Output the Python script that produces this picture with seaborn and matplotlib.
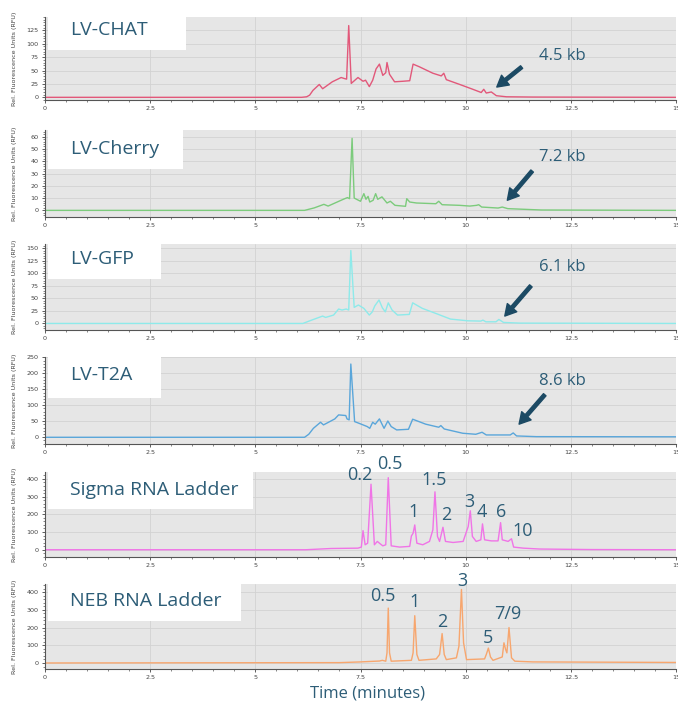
import numpy as np
import pandas as pd
import matplotlib
matplotlib.use("Agg")
import matplotlib.pyplot as plt
import seaborn as sns
from matplotlib.ticker import MultipleLocator, AutoMinorLocator
from matplotlib.patches import Rectangle

sns.set_theme(style="white")
plt.rcParams['font.family'] = ['DejaVu Sans']

# ---------------- data (time in minutes, RFU) ----------------
chat_t = [0, 6.1, 6.22, 6.29, 6.37, 6.52, 6.6, 6.83, 7.04, 7.12, 7.17, 7.22, 7.28, 7.44, 7.56, 7.62,
          7.71, 7.79, 7.87, 7.95, 8.03, 8.1, 8.13, 8.19, 8.31, 8.51, 8.67, 8.75, 8.9, 9.22, 9.42,
          9.48, 9.54, 9.86, 10.17, 10.37, 10.43, 10.49, 10.61, 10.73, 10.97, 11.6, 15]
chat_v = [0, 0, 1, 4, 13, 24, 16, 29, 37, 35, 34, 134, 26, 37, 30, 32,
          20, 32, 53, 62, 41, 46, 65, 43, 29, 30, 31, 62, 57, 45, 40,
          45, 33, 24, 15, 9, 15, 8, 10, 3, 1, 0.5, 0]

cherry_t = [0, 6.17, 6.4, 6.63, 6.73, 7.09, 7.19, 7.24, 7.30, 7.35, 7.5, 7.58, 7.63, 7.68, 7.72, 7.8,
            7.86, 7.91, 8.01, 8.13, 8.21, 8.32, 8.57, 8.6, 8.67, 8.83, 9.29, 9.36, 9.44, 9.85, 10.1,
            10.26, 10.31, 10.38, 10.77, 10.87, 11.0, 11.8, 15]
cherry_v = [0, 0, 2, 4.9, 3.5, 9, 10.4, 9.5, 58.6, 10, 7.4, 13.6, 9, 11.4, 6.8, 8.2,
            13.6, 9, 11, 6, 7.4, 4.1, 3.3, 9.5, 6.8, 6, 5.4, 7.4, 4.6, 4.1, 3.5,
            4.1, 4.6, 2.7, 1.9, 2.7, 1.4, 0.3, 0]

gfp_t = [0, 6.13, 6.34, 6.6, 6.67, 6.86, 6.98, 7.06, 7.16, 7.22, 7.27, 7.35, 7.45, 7.58, 7.71, 7.78,
         7.84, 7.94, 8.02, 8.09, 8.16, 8.25, 8.38, 8.66, 8.74, 8.97, 9.33, 9.64, 10.05, 10.36, 10.41,
         10.48, 10.72, 10.79, 10.9, 11.29, 15]
gfp_v = [0, 0, 6.7, 14.7, 12, 16.7, 28.7, 26.7, 28.7, 26.7, 145, 32, 36.7, 30, 16.7, 23,
         35, 46.7, 31, 23, 41, 26.7, 16.7, 18, 41, 30, 18.7, 8.7, 5.3, 4.7, 6.7,
         3.3, 3.3, 8, 2, 0.7, 0]

t2a_t = [0, 6.17, 6.27, 6.38, 6.55, 6.62, 6.74, 6.89, 6.98, 7.15, 7.18, 7.23, 7.27, 7.36, 7.46, 7.66,
         7.72, 7.79, 7.85, 7.95, 8.06, 8.15, 8.23, 8.36, 8.64, 8.74, 9.05, 9.36, 9.41, 9.49, 9.93,
         10.24, 10.39, 10.49, 11.06, 11.13, 11.21, 11.68, 15]
t2a_v = [0, 0, 9.4, 28, 47, 38.7, 47, 57.5, 70, 68, 57.5, 54.4, 229, 49, 44, 33.5,
         28, 47, 41, 57.5, 28, 51, 33.5, 23, 25, 56.5, 41, 31.4, 36.6, 26, 12.6,
         9.4, 15.7, 7.3, 7.3, 13.6, 4.2, 2, 1.5]

sigma_t = [0, 6.2, 6.8, 7.44, 7.52, 7.56, 7.61, 7.67, 7.75, 7.83, 7.9, 7.95, 8.03, 8.1, 8.16, 8.23,
           8.43, 8.67, 8.71, 8.75, 8.79, 8.84, 8.98, 9.14, 9.22, 9.27, 9.33, 9.38, 9.46, 9.52, 9.7,
           9.94, 10.06, 10.11, 10.16, 10.25, 10.36, 10.40, 10.45, 10.61, 10.77, 10.83, 10.87, 11.01,
           11.09, 11.14, 11.37, 11.76, 13, 15]
sigma_v = [0, 0, 7, 9, 15, 108, 28, 37, 370, 28, 47, 37, 22, 28, 407, 22,
           15, 19, 78, 93, 140, 37, 28, 47, 112, 327, 75, 47, 127, 47, 41,
           47, 131, 220, 75, 47, 56, 146, 56, 50, 50, 153, 56, 47,
           62, 15, 9, 4, 1, 0]

neb_t = [0, 7.0, 7.5, 7.95, 8.02, 8.1, 8.13, 8.16, 8.19, 8.23, 8.71, 8.75, 8.79, 8.84, 8.89, 9.3,
         9.38, 9.44, 9.49, 9.54, 9.78, 9.84, 9.9, 9.95, 10.02, 10.45, 10.49, 10.54, 10.59, 10.65,
         10.87, 10.91, 10.95, 10.98, 11.03, 11.09, 11.17, 11.6, 15]
neb_v = [0, 2, 6, 11, 15, 10, 57, 310, 57, 10, 15, 57, 267, 48, 15, 23,
         48, 166, 48, 19, 29, 95, 415, 114, 19, 23, 48, 84, 34, 15,
         34, 114, 76, 57, 200, 29, 10, 6, 3]

panel_names = ["LV-CHAT", "LV-Cherry", "LV-GFP", "LV-T2A", "Sigma RNA Ladder", "NEB RNA Ladder"]
kb_labels = ["4.5 kb", "7.2 kb", "6.1 kb", "8.6 kb"]

sigma_sizes = ["0.2", "0.5", "1", "1.5", "2", "3", "4", "6", "10"]
sigma_lab_t = [7.48, 8.19, 8.75, 9.26, 9.54, 10.08, 10.39, 10.84, 11.36]
sigma_lab_v = [420, 486, 211, 392, 196, 271, 215, 215, 108]

neb_sizes = ["0.5", "1", "2", "3", "5", "7/9"]
neb_lab_t = [8.03, 8.79, 9.44, 9.91, 10.52, 11.01]
neb_lab_v = [377, 343, 229, 465, 143, 276]

# ---------------- styling ----------------
series = [(chat_t, chat_v), (cherry_t, cherry_v), (gfp_t, gfp_v),
          (t2a_t, t2a_v), (sigma_t, sigma_v), (neb_t, neb_v)]
colors = ["#E2587A", "#7CCB7C", "#8EEAEA", "#5AA6DA", "#F074E6", "#F7A66E"]
ylims = [(-5, 150), (-5.4, 65.4), (-13, 158), (-21, 251), (-41, 439), (-34, 446)]
ysteps = [25, 10, 25, 50, 100, 100]
ymaxtick = [125, 60, 150, 250, 400, 400]
# axes pixel extents (top, bottom)
ax_px = [(17, 100), (130, 217), (244, 330), (357, 444), (472, 557), (584, 669)]
box_w = [183, 180, 158, 158, 250, 238]
box_bottom = [0.60, 0.556, 0.59, 0.53, 0.565, 0.565]
title_y = [0.84, 0.78, 0.82, 0.79, 0.79, 0.80]

# arrows: (tail_t, tail_v, head_t, head_v, text_t, text_v)
arrows = [(11.33, 56.5, 10.74, 19.2, 12.29, 76.5),
          (11.58, 32, 10.99, 8.2, 12.3, 43.6),
          (11.55, 74.7, 10.93, 14.7, 12.3, 113),
          (11.88, 133, 11.27, 41, 12.3, 177)]

text_col = "#2D5D77"
arrow_col = "#1C4A64"
W, H = 678, 711
fig = plt.figure(figsize=(W / 100, H / 100), dpi=100)
left_px, right_px = 45, 676

for i in range(6):
    top, bot = ax_px[i]
    ax = fig.add_axes([left_px / W, 1 - bot / H, (right_px - left_px) / W, (bot - top) / H])
    ax.set_facecolor("#E6E6E6")
    t, v = series[i]
    df = pd.DataFrame({"t": t, "v": v})
    sns.lineplot(data=df, x="t", y="v", ax=ax, color=colors[i], linewidth=1.0,
                 estimator=None, sort=False, zorder=2)
    ax.set_xlim(0, 15)
    ax.set_ylim(*ylims[i])
    ax.xaxis.set_major_locator(MultipleLocator(2.5))
    ax.xaxis.set_minor_locator(AutoMinorLocator(5))
    ax.set_yticks(np.arange(0, ymaxtick[i] + 0.1, ysteps[i]))
    ax.yaxis.set_minor_locator(AutoMinorLocator(5))
    ax.xaxis.set_major_formatter(matplotlib.ticker.FuncFormatter(lambda x, p: f"{x:g}"))
    ax.grid(True, which="major", color="#D2D2D2", linewidth=0.6)
    ax.set_axisbelow(True)
    for s in ["top", "right"]:
        ax.spines[s].set_visible(False)
    for s in ["left", "bottom"]:
        ax.spines[s].set_color("#555555")
        ax.spines[s].set_linewidth(0.8)
    ax.tick_params(axis="both", which="major", direction="out", length=2.5, width=0.6,
                   colors="#444444", labelsize=4.6, pad=2)
    ax.tick_params(axis="both", which="minor", direction="out", length=1.5, width=0.5,
                   colors="#555555")
    ax.tick_params(axis="both", which="both", bottom=True, left=True)
    ax.set_xlabel("")
    ax.set_ylabel("Rel. Fluorescence Units (RFU)", fontsize=4.6, color="#444444")
    ax.yaxis.set_label_coords(-0.045, 0.5)

    # white title box
    bw = (box_w[i] - left_px) / (right_px - left_px)
    ax.add_patch(Rectangle((0.004, box_bottom[i]), bw, 1.2 - box_bottom[i],
                           transform=ax.transAxes, facecolor="white", edgecolor="none",
                           zorder=3, clip_on=False))
    ax.text(25 / (right_px - left_px), title_y[i], panel_names[i], transform=ax.transAxes,
            fontsize=14, color=text_col, family=["Open Sans", "DejaVu Sans"],
            ha="left", va="center", zorder=4)

    if i < 4:
        tt, tv, ht, hv, xt, xv = arrows[i]
        ax.annotate("", xy=(ht, hv), xytext=(tt, tv),
                    arrowprops=dict(facecolor=arrow_col, edgecolor=arrow_col,
                                    width=2.4, headwidth=9, headlength=8, shrink=0),
                    zorder=5)
        ax.text(xt, xv, kb_labels[i], fontsize=12, color=text_col,
                family=["Open Sans", "DejaVu Sans"], ha="center", va="center", zorder=5)
    elif i == 4:
        for lab, lt, lv in zip(sigma_sizes, sigma_lab_t, sigma_lab_v):
            ax.text(lt, lv, lab, fontsize=13, color=text_col, family=["Open Sans", "DejaVu Sans"],
                    ha="center", va="center", zorder=5)
    else:
        for lab, lt, lv in zip(neb_sizes, neb_lab_t, neb_lab_v):
            ax.text(lt, lv, lab, fontsize=13, color=text_col, family=["Open Sans", "DejaVu Sans"],
                    ha="center", va="center", zorder=5)

fig.text(368 / W, 1 - 693 / H, "Time (minutes)", fontsize=12, color=text_col,
         family=["Open Sans", "DejaVu Sans"], ha="center", va="center")

fig.savefig("out.png", dpi=100)
